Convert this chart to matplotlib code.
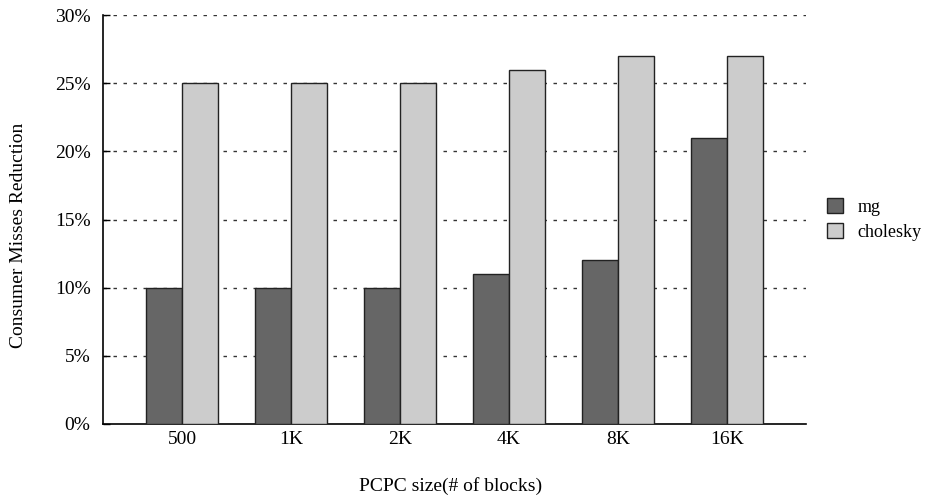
import matplotlib.pyplot as plt
import numpy as np
from matplotlib.patches import Patch

sizes = ["500", "1K", "2K", "4K", "8K", "16K"]
mg = [10, 10, 10, 11, 12, 21]
cholesky = [25, 25, 25, 26, 27, 27]
yticks = [0, 5, 10, 15, 20, 25, 30]

plt.rcParams['font.family'] = ['Liberation Serif', 'DejaVu Serif']

fig = plt.figure(figsize=(9.3, 5), dpi=100)
ax = fig.add_axes([0.1108, 0.152, 0.7559, 0.818])

x = np.arange(len(sizes))
w = 0.33
ax.bar(x - w / 2, mg, w, color='#666666', edgecolor='#222222', linewidth=1, zorder=3, label='mg')
ax.bar(x + w / 2, cholesky, w, color='#cccccc', edgecolor='#222222', linewidth=1, zorder=3, label='cholesky')

ax.set_xlim(-0.725, 5.725)
ax.set_ylim(0, 30)
ax.set_xticks(x)
ax.set_xticklabels(sizes, fontsize=14)
ax.set_yticks(yticks)
ax.set_yticklabels([f"{v}%" for v in yticks], fontsize=14)
ax.tick_params(axis='y', direction='in', length=5, width=1, pad=9)
ax.tick_params(axis='x', length=0, pad=5)

for v in yticks[1:]:
    ax.axhline(v, color='#333333', linewidth=1, linestyle=(0, (2.5, 4.7)), zorder=1)

ax.spines['top'].set_visible(False)
ax.spines['right'].set_visible(False)
ax.spines['left'].set_linewidth(1.2)
ax.spines['bottom'].set_linewidth(1.2)

ax.set_ylabel("Consumer Misses Reduction", fontsize=14, labelpad=20, y=0.462)
ax.set_xlabel("PCPC size(# of blocks)", fontsize=14, labelpad=21, x=0.494)

handles = [Patch(facecolor='#666666', edgecolor='#222222', label='mg'),
           Patch(facecolor='#cccccc', edgecolor='#222222', label='cholesky')]
fig.legend(handles=handles, loc='center left', bbox_to_anchor=(0.889, 0.561),
           frameon=False, fontsize=13, handlelength=0.9, handleheight=0.9,
           handletextpad=0.8, labelspacing=0.4, borderpad=0, borderaxespad=0)

fig.savefig("out.png", dpi=100)
